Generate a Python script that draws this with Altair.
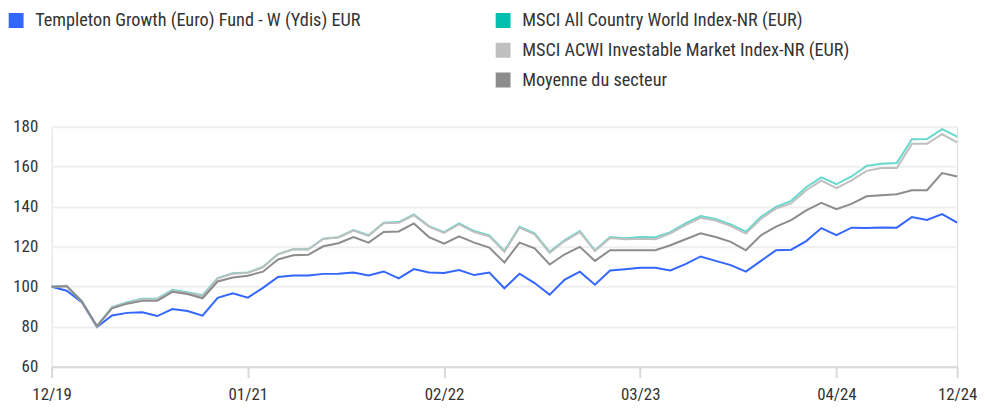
import altair as alt
import pandas as pd

FUND = "Templeton Growth (Euro) Fund - W (Ydis) EUR"
ACWI = "MSCI All Country World Index-NR (EUR)"
IMI = "MSCI ACWI Investable Market Index-NR (EUR)"
SECTOR = "Moyenne du secteur"

# monthly observations, Dec 2019 -> Dec 2024
months = [f"{m:02d}/{y % 100:02d}" for y in range(2019, 2025) for m in range(1, 13)]
months = months[11:] + ["12/24"]
months = months[:61]

fund = [100, 98.0, 92.2, 79.8, 85.6, 86.9, 87.2, 85.3, 88.8, 87.8,
        85.5, 94.4, 96.7, 94.5, 99.4, 104.8, 105.6, 105.6, 106.4, 106.5,
        107.1, 105.6, 107.6, 104.1, 108.8, 107.1, 106.8, 108.3, 105.8, 107.1,
        99.2, 106.5, 101.8, 96.0, 103.5, 107.5, 101.0, 108.1, 108.7, 109.4,
        109.4, 108.1, 111.3, 115.1, 112.9, 110.8, 107.5, 112.9, 118.2, 118.5,
        122.8, 129.3, 125.8, 129.5, 129.3, 129.6, 129.5, 134.8, 133.4, 136.3,
        132.0]

acwi = [100, 100.5, 92.8, 80.3, 89.8, 92.2, 94.0, 94.0, 98.4, 97.2,
        95.7, 104.3, 106.7, 107.1, 109.9, 116.3, 118.7, 118.7, 124.0, 124.7,
        128.3, 125.7, 132.0, 132.3, 136.1, 130.3, 127.3, 131.6, 127.8, 125.7,
        117.9, 130.0, 126.7, 117.4, 123.3, 127.8, 118.2, 124.8, 124.2, 124.8,
        124.7, 127.3, 131.6, 135.3, 133.9, 131.1, 127.5, 134.9, 139.9, 142.9,
        149.7, 154.6, 151.2, 155.1, 160.4, 161.4, 161.8, 173.7, 173.8, 178.8,
        175.0]

imi = [100, 100.4, 92.6, 79.9, 89.5, 91.8, 93.6, 93.6, 98.0, 96.8,
       95.3, 104.0, 106.5, 106.9, 109.7, 116.2, 118.7, 118.6, 123.9, 124.6,
       128.0, 125.4, 131.7, 132.0, 135.7, 130.0, 126.9, 131.2, 127.3, 125.2,
       117.4, 129.5, 126.2, 116.9, 122.8, 127.3, 117.8, 124.3, 123.7, 124.0,
       123.7, 126.7, 130.8, 134.4, 133.1, 130.3, 126.5, 133.9, 139.1, 141.6,
       148.2, 153.0, 149.3, 153.1, 157.9, 159.3, 159.3, 171.4, 171.4, 176.2,
       172.2]

sector = [100, 100.2, 92.6, 80.3, 89.2, 91.5, 92.9, 92.9, 97.4, 96.3,
          94.2, 102.6, 104.6, 105.5, 107.5, 113.6, 115.7, 115.9, 120.2, 121.7,
          124.8, 122.0, 127.3, 127.6, 131.6, 124.8, 121.5, 125.2, 122.0, 119.5,
          112.1, 122.0, 119.2, 111.1, 116.2, 119.9, 112.9, 118.2, 118.2, 118.2,
          118.2, 120.7, 123.7, 126.7, 124.8, 122.4, 118.2, 125.7, 130.0, 133.3,
          138.1, 141.9, 138.7, 141.4, 145.2, 145.7, 146.2, 148.2, 148.2, 156.8,
          155.1]

tick_idx = [0, 13, 26, 39, 52, 60]
y_ticks = [60, 80, 100, 120, 140, 160, 180]

COLORS = {FUND: "#3366ff", ACWI: "#00bfae", IMI: "#bfbfbf", SECTOR: "#8c8c8c"}

def frame(name, vals):
    return pd.DataFrame({"idx": list(range(len(vals))), "month": months,
                         "value": vals, "series": name})

df_fund = frame(FUND, fund)
df_bench = pd.concat([frame(ACWI, acwi), frame(IMI, imi), frame(SECTOR, sector)],
                     ignore_index=True)

label_map = "{" + ",".join(f"'{i}':'{months[i]}'" for i in tick_idx) + "}"

FONT = "'Roboto Condensed', 'DejaVu Sans Condensed', 'Liberation Sans Narrow', 'Arial Narrow', Roboto, sans-serif"

x_enc = alt.X("idx:Q", scale=alt.Scale(domain=[0, 60], nice=False, zero=False),
              axis=alt.Axis(values=tick_idx, labelExpr=f"{label_map}[''+datum.value]",
                            grid=False, domainColor="#d9d9d9", domainWidth=2,
                            tickColor="#d9d9d9", tickWidth=2, tickSize=11,
                            labelFontSize=17, labelPadding=9, labelColor="#333333",
                            labelFlush=False, labelFont=FONT, title=None))
y_enc = alt.Y("value:Q", scale=alt.Scale(domain=[60, 180], nice=False, zero=False),
              axis=alt.Axis(values=y_ticks, grid=True, gridColor="#efefef", gridWidth=2,
                            domain=False, ticks=False, labelPadding=14,
                            labelFontSize=17, labelColor="#333333", labelFont=FONT,
                            title=None))

def leg(x, y):
    return alt.Legend(title=None, orient="none", legendX=x, legendY=y,
                      symbolType="square", symbolSize=56, symbolStrokeWidth=7.5,
                      labelFontSize=18.4, labelFont=FONT, labelColor="#333333",
                      labelOffset=10, rowPadding=10, clipHeight=20, padding=0,
                      labelLimit=0)

fund_layer = alt.Chart(df_fund).mark_line(strokeWidth=2).encode(
    x=x_enc, y=y_enc,
    color=alt.Color("series:N", scale=alt.Scale(domain=[FUND], range=[COLORS[FUND]]),
                    legend=leg(-45, -117)),
)

bench_layer = alt.Chart(df_bench).mark_line(strokeWidth=2).encode(
    x=x_enc, y=y_enc,
    color=alt.Color("series:N",
                    scale=alt.Scale(domain=[ACWI, IMI, SECTOR],
                                    range=[COLORS[ACWI], COLORS[IMI], COLORS[SECTOR]]),
                    legend=leg(446, -117)),
    strokeOpacity=alt.condition(alt.datum.series == ACWI, alt.value(0.6), alt.value(1.0)),
    detail="series:N",
)

chart = alt.layer(fund_layer, bench_layer).resolve_scale(color="independent").properties(
    width=913, height=242,
    autosize=alt.AutoSizeParams(type="none"),
    padding={"left": 44, "top": 118, "right": 20, "bottom": 36},
).configure_view(stroke=None).configure(font=FONT)

chart.save("out.html", embed_options={"renderer": "svg", "actions": False})
